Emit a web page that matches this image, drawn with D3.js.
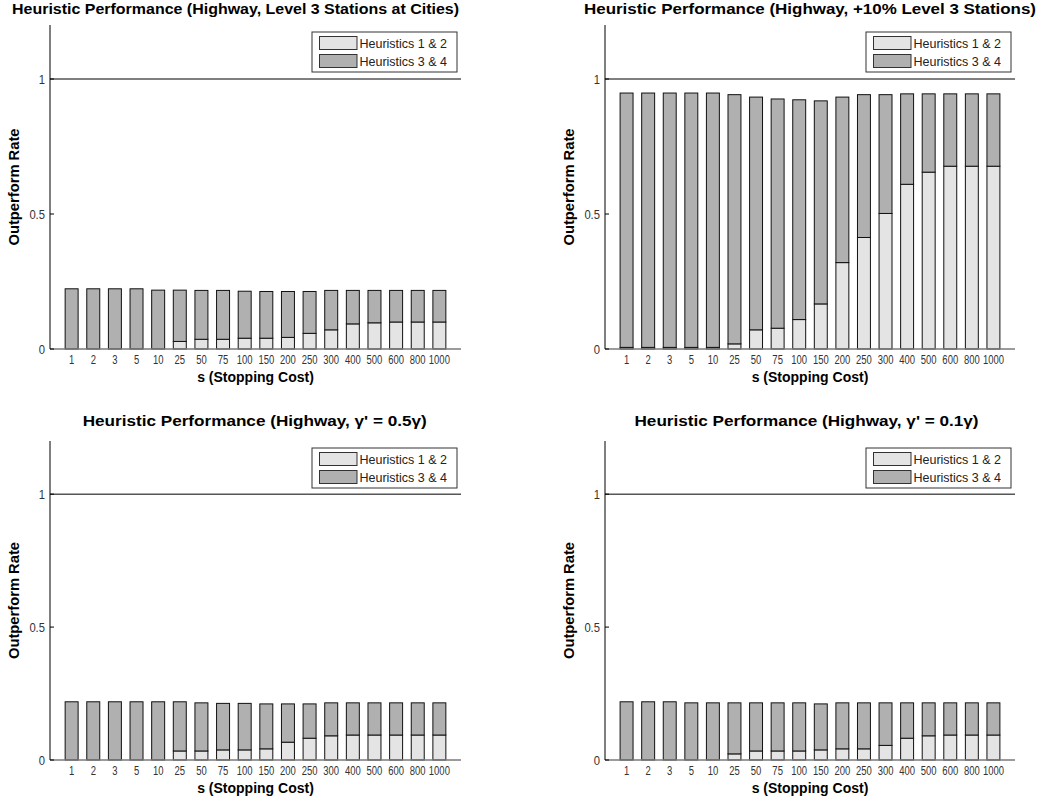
<!DOCTYPE html>
<html><head><meta charset="utf-8">
<script src="https://cdn.jsdelivr.net/npm/d3@7"></script>
<style>
body{margin:0;background:#fff}
svg{display:block}
text{font-family:"Liberation Sans",Arial,Helvetica,sans-serif}
</style>
</head><body>
<svg id="c" width="1045" height="803"></svg>
<script>
// ---------- data ----------
const categories = ["1","2","3","5","10","25","50","75","100","150","200","250","300","400","500","600","800","1000"];
const seriesNames = ["Heuristics 1 & 2","Heuristics 3 & 4"];
const yTickValues = [0, 0.5, 1];
const yTickLabels = ["0", "0.5", "1"];
const titles = [
  "Heuristic Performance (Highway, Level 3 Stations at Cities)",
  "Heuristic Performance (Highway, +10% Level 3 Stations)",
  "Heuristic Performance (Highway, \u03B3' = 0.5\u03B3)",
  "Heuristic Performance (Highway, \u03B3' = 0.1\u03B3)"
];
const xLabel = "s (Stopping Cost)";
const yLabel = "Outperform Rate";

// Panel 1: Level 3 Stations at Cities
const p1H12 = [0,0,0,0,0,0.028,0.036,0.036,0.040,0.040,0.043,0.058,0.071,0.093,0.097,0.100,0.100,0.100];
const p1H34 = [0.223,0.223,0.223,0.223,0.218,0.190,0.181,0.181,0.174,0.173,0.170,0.155,0.146,0.124,0.120,0.117,0.117,0.117];
// Panel 2: +10% Level 3 Stations
const p2H12 = [0.006,0.006,0.006,0.006,0.006,0.019,0.071,0.077,0.109,0.167,0.320,0.413,0.502,0.610,0.655,0.677,0.677,0.677];
const p2H34 = [0.942,0.942,0.942,0.942,0.942,0.923,0.862,0.849,0.814,0.752,0.613,0.529,0.440,0.335,0.290,0.268,0.268,0.268];
// Panel 3: gamma' = 0.5 gamma
const p3H12 = [0,0,0,0,0,0.034,0.034,0.038,0.038,0.042,0.067,0.082,0.091,0.094,0.094,0.094,0.094,0.094];
const p3H34 = [0.219,0.219,0.219,0.219,0.219,0.185,0.181,0.175,0.175,0.169,0.144,0.129,0.124,0.121,0.121,0.121,0.121,0.121];
// Panel 4: gamma' = 0.1 gamma
const p4H12 = [0,0,0,0,0,0.023,0.034,0.034,0.034,0.038,0.042,0.042,0.055,0.082,0.091,0.094,0.094,0.094];
const p4H34 = [0.219,0.219,0.219,0.215,0.215,0.192,0.181,0.181,0.181,0.173,0.173,0.173,0.160,0.133,0.124,0.121,0.121,0.121];

// ---------- layout ----------
const colors = ["#e4e4e4", "#b0b0b0"];
const svg = d3.select("#c");

const panels = [
  {title: titles[0], h12: p1H12, h34: p1H34, x0: 50,  x1: 461,  yTop: 25,  yBase: 349, tx: 235.5, ty: 14,  tlen: 447},
  {title: titles[1], h12: p2H12, h34: p2H34, x0: 605, x1: 1015, yTop: 25,  yBase: 349, tx: 810,   ty: 14,  tlen: 452},
  {title: titles[2], h12: p3H12, h34: p3H34, x0: 50,  x1: 461,  yTop: 441, yBase: 760, tx: 254.7, ty: 426, tlen: 344},
  {title: titles[3], h12: p4H12, h34: p4H34, x0: 605, x1: 1015, yTop: 441, yBase: 760, tx: 806.5, ty: 426, tlen: 344}
];

panels.forEach(p => {
  const g = svg.append("g");
  const x = d3.scaleBand().domain(categories).range([p.x0, p.x1]).paddingInner(0.4).paddingOuter(0.7);
  const y = d3.scaleLinear().domain([0, 1.2]).range([p.yBase, p.yTop]);

  const rows = categories.map((c, i) => ({cat: c, h12: p.h12[i], h34: p.h34[i]}));
  const stacked = d3.stack().keys(["h12", "h34"])(rows);

  stacked.forEach((layer, li) => {
    g.append("g").selectAll("rect")
      .data(layer.filter(d => d[1] - d[0] > 0))
      .join("rect")
      .attr("x", d => x(d.data.cat))
      .attr("y", d => y(d[1]))
      .attr("width", x.bandwidth())
      .attr("height", d => y(d[0]) - y(d[1]))
      .attr("fill", colors[li])
      .attr("stroke", "#111")
      .attr("stroke-width", 1);
  });

  // baseline
  g.append("line").attr("x1", p.x0).attr("x2", p.x1).attr("y1", y(0)).attr("y2", y(0))
    .attr("stroke", "#7a7a7a").attr("stroke-width", 1.6);
  // reference line at 1
  g.append("line").attr("x1", p.x0).attr("x2", p.x1).attr("y1", y(1)).attr("y2", y(1))
    .attr("stroke", "#000").attr("stroke-width", 1);
  // y axis
  g.append("line").attr("x1", p.x0).attr("x2", p.x0).attr("y1", y(1.2)).attr("y2", y(0))
    .attr("stroke", "#000").attr("stroke-width", 1);
  // inward ticks
  g.append("g").selectAll("line").data(yTickValues).join("line")
    .attr("x1", p.x0).attr("x2", p.x0 + 4).attr("y1", d => y(d)).attr("y2", d => y(d))
    .attr("stroke", "#000").attr("stroke-width", 1);
  // y tick labels
  g.append("g").selectAll("text").data(yTickValues).join("text")
    .attr("transform", d => `translate(${p.x0 - 5},${y(d) + 4.5}) scale(0.9,1)`)
    .attr("text-anchor", "end")
    .attr("font-size", 12.5)
    .attr("fill", "#333")
    .text((d, i) => yTickLabels[i]);
  // x tick labels
  g.append("g").selectAll("text").data(categories).join("text")
    .attr("transform", d => `translate(${x(d) + x.bandwidth() / 2},${p.yBase + 15}) scale(0.74,1)`)
    .attr("text-anchor", "middle")
    .attr("font-size", 12.8)
    .attr("fill", "#333")
    .text(d => d);
  // x label
  g.append("text")
    .attr("x", (p.x0 + p.x1) / 2).attr("y", p.yBase + 33)
    .attr("text-anchor", "middle").attr("font-size", 14).attr("font-weight", "bold")
    .text(xLabel);
  // y label
  g.append("text")
    .attr("transform", `translate(${p.x0 - 31},${(p.yTop + p.yBase) / 2}) rotate(-90)`)
    .attr("text-anchor", "middle").attr("font-size", 14).attr("font-weight", "bold")
    .attr("textLength", 117).attr("lengthAdjust", "spacingAndGlyphs")
    .text(yLabel);
  // title
  g.append("text")
    .attr("x", p.tx - p.tlen / 2).attr("y", p.ty)
    .attr("font-size", 14).attr("font-weight", "bold")
    .attr("textLength", p.tlen).attr("lengthAdjust", "spacingAndGlyphs")
    .text(p.title);

  // legend
  const lw = 145, lh = 40;
  const lx = p.x1 - 4 - lw, ly = p.yTop + 7;
  const lg = g.append("g").attr("transform", `translate(${lx},${ly})`);
  lg.append("rect").attr("width", lw).attr("height", lh).attr("fill", "#fff").attr("stroke", "#333").attr("stroke-width", 1);
  seriesNames.forEach((s, i) => {
    lg.append("rect").attr("x", 7.5).attr("y", 4.5 + i * 18).attr("width", 37.5).attr("height", 13)
      .attr("fill", colors[i]).attr("stroke", "#333").attr("stroke-width", 1);
    lg.append("text").attr("x", 47.5).attr("y", 15.5 + i * 18)
      .attr("font-size", 12.5).attr("fill", "#222").text(s);
  });
});
</script>
</body></html>
